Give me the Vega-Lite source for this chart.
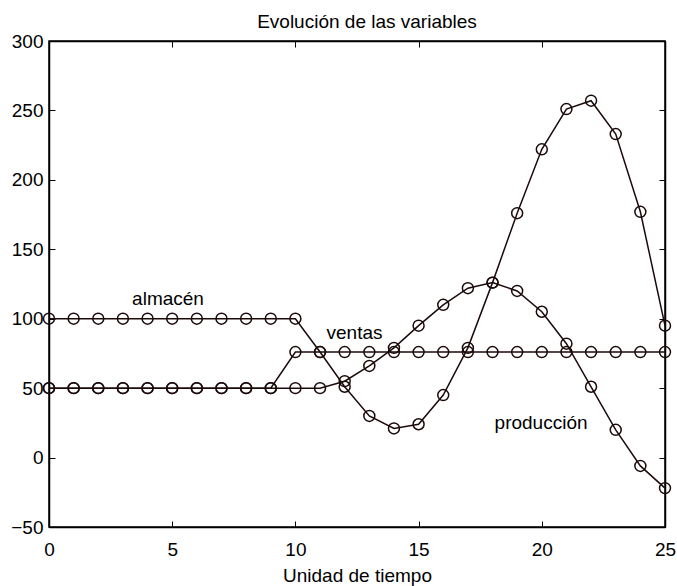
{
  "$schema": "https://vega.github.io/schema/vega-lite/v6.json",
  "width": 616,
  "height": 486,
  "autosize": {"type": "none"},
  "padding": {"left": 49, "top": 41, "right": 11, "bottom": 59},
  "background": "white",
  "config": {
    "font": "Liberation Sans",
    "view": {"stroke": "black", "strokeWidth": 1.5},
    "axis": {
      "grid": false,
      "domainColor": "black",
      "domainWidth": 1.5,
      "tickColor": "black",
      "tickWidth": 1,
      "labelColor": "black",
      "labelFont": "Liberation Sans",
      "labelFontSize": 19,
      "labelFlush": false,
      "labelOverlap": false,
      "titleFont": "Liberation Sans",
      "titleFontSize": 19,
      "titleFontWeight": "normal",
      "titleColor": "black"
    }
  },
  "title": {
    "text": "Evolución de las variables",
    "fontSize": 19,
    "fontWeight": "normal",
    "font": "Liberation Sans",
    "color": "black",
    "offset": 0,
    "dx": 10
  },
  "datasets": {
    "series": [
      {"t": 0, "v": 100, "s": "almacén"}, {"t": 1, "v": 100, "s": "almacén"}, {"t": 2, "v": 100, "s": "almacén"}, {"t": 3, "v": 100, "s": "almacén"}, {"t": 4, "v": 100, "s": "almacén"}, {"t": 5, "v": 100, "s": "almacén"}, {"t": 6, "v": 100, "s": "almacén"}, {"t": 7, "v": 100, "s": "almacén"}, {"t": 8, "v": 100, "s": "almacén"}, {"t": 9, "v": 100, "s": "almacén"}, {"t": 10, "v": 100, "s": "almacén"}, {"t": 11, "v": 76, "s": "almacén"}, {"t": 12, "v": 51, "s": "almacén"}, {"t": 13, "v": 30, "s": "almacén"}, {"t": 14, "v": 21, "s": "almacén"}, {"t": 15, "v": 24, "s": "almacén"}, {"t": 16, "v": 45, "s": "almacén"}, {"t": 17, "v": 79, "s": "almacén"}, {"t": 18, "v": 126, "s": "almacén"}, {"t": 19, "v": 176, "s": "almacén"}, {"t": 20, "v": 222, "s": "almacén"}, {"t": 21, "v": 251, "s": "almacén"}, {"t": 22, "v": 257, "s": "almacén"}, {"t": 23, "v": 233, "s": "almacén"}, {"t": 24, "v": 177, "s": "almacén"}, {"t": 25, "v": 95, "s": "almacén"},
      {"t": 0, "v": 50, "s": "ventas"}, {"t": 1, "v": 50, "s": "ventas"}, {"t": 2, "v": 50, "s": "ventas"}, {"t": 3, "v": 50, "s": "ventas"}, {"t": 4, "v": 50, "s": "ventas"}, {"t": 5, "v": 50, "s": "ventas"}, {"t": 6, "v": 50, "s": "ventas"}, {"t": 7, "v": 50, "s": "ventas"}, {"t": 8, "v": 50, "s": "ventas"}, {"t": 9, "v": 50, "s": "ventas"}, {"t": 10, "v": 76, "s": "ventas"}, {"t": 11, "v": 76, "s": "ventas"}, {"t": 12, "v": 76, "s": "ventas"}, {"t": 13, "v": 76, "s": "ventas"}, {"t": 14, "v": 76, "s": "ventas"}, {"t": 15, "v": 76, "s": "ventas"}, {"t": 16, "v": 76, "s": "ventas"}, {"t": 17, "v": 76, "s": "ventas"}, {"t": 18, "v": 76, "s": "ventas"}, {"t": 19, "v": 76, "s": "ventas"}, {"t": 20, "v": 76, "s": "ventas"}, {"t": 21, "v": 76, "s": "ventas"}, {"t": 22, "v": 76, "s": "ventas"}, {"t": 23, "v": 76, "s": "ventas"}, {"t": 24, "v": 76, "s": "ventas"}, {"t": 25, "v": 76, "s": "ventas"},
      {"t": 0, "v": 50, "s": "producción"}, {"t": 1, "v": 50, "s": "producción"}, {"t": 2, "v": 50, "s": "producción"}, {"t": 3, "v": 50, "s": "producción"}, {"t": 4, "v": 50, "s": "producción"}, {"t": 5, "v": 50, "s": "producción"}, {"t": 6, "v": 50, "s": "producción"}, {"t": 7, "v": 50, "s": "producción"}, {"t": 8, "v": 50, "s": "producción"}, {"t": 9, "v": 50, "s": "producción"}, {"t": 10, "v": 50, "s": "producción"}, {"t": 11, "v": 50, "s": "producción"}, {"t": 12, "v": 55, "s": "producción"}, {"t": 13, "v": 66, "s": "producción"}, {"t": 14, "v": 79, "s": "producción"}, {"t": 15, "v": 95, "s": "producción"}, {"t": 16, "v": 110, "s": "producción"}, {"t": 17, "v": 122, "s": "producción"}, {"t": 18, "v": 126, "s": "producción"}, {"t": 19, "v": 120, "s": "producción"}, {"t": 20, "v": 105, "s": "producción"}, {"t": 21, "v": 82, "s": "producción"}, {"t": 22, "v": 51, "s": "producción"}, {"t": 23, "v": 20, "s": "producción"}, {"t": 24, "v": -6, "s": "producción"}, {"t": 25, "v": -22, "s": "producción"}
    ],
    "labels": [
      {"t": 4.83, "v": 114, "name": "almacén"},
      {"t": 12.4, "v": 89.5, "name": "ventas"},
      {"t": 19.97, "v": 24.7, "name": "producción"}
    ]
  },
  "resolve": {"axis": {"x": "independent", "y": "independent"}},
  "layer": [
    {
      "data": {"name": "series"},
      "mark": {"type": "line", "color": "#1c0a0a", "strokeWidth": 1.5},
      "encoding": {
        "x": {"field": "t", "type": "quantitative", "scale": {"domain": [0, 25], "nice": false, "zero": false},
              "axis": {"orient": "bottom", "values": [0, 5, 10, 15, 20, 25], "tickSize": -6, "labelPadding": 19, "title": "Unidad de tiempo", "titlePadding": 7}},
        "y": {"field": "v", "type": "quantitative", "scale": {"domain": [-50, 300], "nice": false, "zero": false},
              "axis": {"orient": "left", "values": [-50, 0, 50, 100, 150, 200, 250, 300], "tickSize": -6, "labelPadding": 12, "title": null}},
        "detail": {"field": "s", "type": "nominal"}
      }
    },
    {
      "data": {"name": "series"},
      "mark": {"type": "point", "shape": "circle", "filled": false, "color": "#1c0a0a", "size": 120, "strokeWidth": 1.5, "opacity": 1},
      "encoding": {
        "x": {"field": "t", "type": "quantitative", "axis": null},
        "y": {"field": "v", "type": "quantitative", "axis": null},
        "detail": {"field": "s", "type": "nominal"}
      }
    },
    {
      "data": {"name": "labels"},
      "mark": {"type": "text", "font": "Liberation Sans", "fontSize": 19, "color": "black", "align": "center", "baseline": "middle"},
      "encoding": {
        "x": {"field": "t", "type": "quantitative",
              "axis": {"orient": "top", "values": [0, 5, 10, 15, 20, 25], "tickSize": -6, "labels": false, "title": null}},
        "y": {"field": "v", "type": "quantitative",
              "axis": {"orient": "right", "values": [-50, 0, 50, 100, 150, 200, 250, 300], "tickSize": -6, "labels": false, "title": null}},
        "text": {"field": "name", "type": "nominal"}
      }
    }
  ]
}
